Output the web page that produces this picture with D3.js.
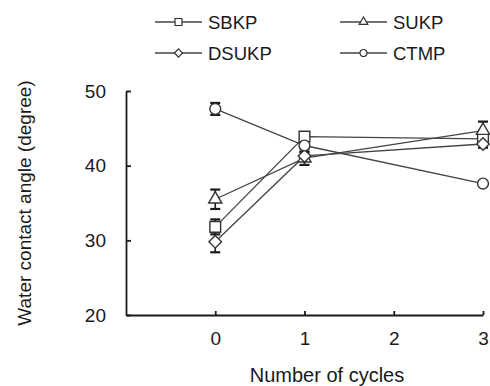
<!DOCTYPE html>
<html>
<head>
<meta charset="utf-8">
<script src="https://cdn.jsdelivr.net/npm/d3@7"></script>
<style>
  html, body { margin: 0; padding: 0; background: #fff; }
  svg { display: block; font-family: "Liberation Sans", Arial, sans-serif; }
</style>
</head>
<body>
<svg id="chart" width="490" height="386"></svg>
<script>
// Water contact angle after repeated cycles
const cycles = [0, 1, 3];
const seriesNames = ["SBKP", "SUKP", "DSUKP", "CTMP"];
const sbkp = [31.8, 43.9, 43.6];
const sbkpErr = [1.0, 0.5, 0.4];
const sukp = [35.5, 41.0, 44.7];
const sukpErr = [1.3, 0.9, 1.2];
const dsukp = [29.8, 41.3, 42.9];
const dsukpErr = [1.4, 0.5, 0.5];
const ctmp = [47.6, 42.7, 37.6];
const ctmpErr = [0.8, 0.4, 0.3];
const xTicks = [0, 1, 2, 3];
const yTicks = [20, 30, 40, 50];

const series = [
  { name: "SBKP", values: sbkp, errs: sbkpErr, shape: "square" },
  { name: "SUKP", values: sukp, errs: sukpErr, shape: "triangle" },
  { name: "DSUKP", values: dsukp, errs: dsukpErr, shape: "diamond" },
  { name: "CTMP", values: ctmp, errs: ctmpErr, shape: "circle" }
];

const svg = d3.select("#chart");
const ink = "#1a1a1a";
const lineInk = "#444";

const x = d3.scaleLinear().domain([-1, 3]).range([126, 483]);
const y = d3.scaleLinear().domain([20, 50]).range([315, 91]);

// marker path generator
function markerPath(shape, scale) {
  const s = scale || 1;
  if (shape === "square") return d3.symbol(d3.symbolSquare, 115 * s * s)();
  if (shape === "circle") return d3.symbol(d3.symbolCircle, 92 * s * s)();
  if (shape === "triangle") return d3.symbol(d3.symbolTriangle, 75 * s * s)();
  // diamond: a square turned by 45 degrees
  const h = 6.3 * s;
  return `M0,${-h}L${h},0L0,${h}L${-h},0Z`;
}

// axes
const yAxis = d3.axisLeft(y).tickValues(yTicks).tickFormat(d3.format("d"))
  .tickSizeInner(-5).tickSizeOuter(0).tickPadding(20);
const xAxis = d3.axisBottom(x).tickValues(xTicks).tickFormat(d3.format("d"))
  .tickSizeInner(-4).tickSizeOuter(0).tickPadding(17);

const gy = svg.append("g").attr("transform", `translate(${x(-1)},0)`).call(yAxis);
const gx = svg.append("g").attr("transform", `translate(0,${y(20)})`).call(xAxis);

[gx, gy].forEach(g => {
  g.select(".domain").attr("stroke", ink).attr("stroke-width", 1.8);
  g.selectAll(".tick line").attr("stroke", ink).attr("stroke-width", 1.8);
  g.selectAll(".tick text").attr("fill", ink).style("font-size", "19px")
    .style("font-family", "'Liberation Sans', Arial, sans-serif");
});

// axis titles
svg.append("text")
  .attr("x", 327)
  .attr("y", 382)
  .attr("text-anchor", "middle")
  .attr("fill", ink)
  .style("font-size", "20px")
  .text("Number of cycles");

svg.append("text")
  .attr("transform", `translate(31,${(y(20) + y(50)) / 2}) rotate(-90)`)
  .attr("text-anchor", "middle")
  .attr("fill", ink)
  .style("font-size", "19px")
  .text("Water contact angle (degree)");

// lines
const line = d3.line().x((d, i) => x(cycles[i])).y(d => y(d));
svg.append("g").selectAll("path").data(series).join("path")
  .attr("d", s => line(s.values))
  .attr("fill", "none")
  .attr("stroke", lineInk)
  .attr("stroke-width", 1.3);

// error bars
const eg = svg.append("g");
series.forEach(s => {
  s.values.forEach((v, i) => {
    const cx = x(cycles[i]);
    const e = s.errs[i];
    eg.append("line").attr("x1", cx).attr("x2", cx).attr("y1", y(v - e)).attr("y2", y(v + e))
      .attr("stroke", ink).attr("stroke-width", 1.6);
    [v - e, v + e].forEach(b => {
      eg.append("line").attr("x1", cx - 5).attr("x2", cx + 5).attr("y1", y(b)).attr("y2", y(b))
        .attr("stroke", ink).attr("stroke-width", 2.2);
    });
  });
});

// markers
const mg = svg.append("g");
series.forEach(s => {
  s.values.forEach((v, i) => {
    mg.append("path")
      .attr("d", markerPath(s.shape, 1))
      .attr("transform", `translate(${x(cycles[i])},${y(v)})`)
      .attr("fill", "#fff")
      .attr("stroke", "#333")
      .attr("stroke-width", 1.4);
  });
});

// legend
const legendPos = [
  { x: 155, y: 22 }, { x: 340, y: 22 },
  { x: 155, y: 53 }, { x: 340, y: 53 }
];
const lg = svg.append("g");
series.forEach((s, i) => {
  const p = legendPos[i];
  const g = lg.append("g").attr("transform", `translate(${p.x},${p.y})`);
  g.append("line").attr("x1", 0).attr("x2", 47).attr("y1", 0).attr("y2", 0)
    .attr("stroke", lineInk).attr("stroke-width", 1.3);
  g.append("path").attr("d", markerPath(s.shape, 0.65))
    .attr("transform", "translate(23.5,0)")
    .attr("fill", "#fff").attr("stroke", "#333").attr("stroke-width", 1.2);
  g.append("text").attr("x", 53).attr("y", 6.5)
    .attr("fill", ink).style("font-size", "18.5px").text(seriesNames[i]);
});
</script>
</body>
</html>
